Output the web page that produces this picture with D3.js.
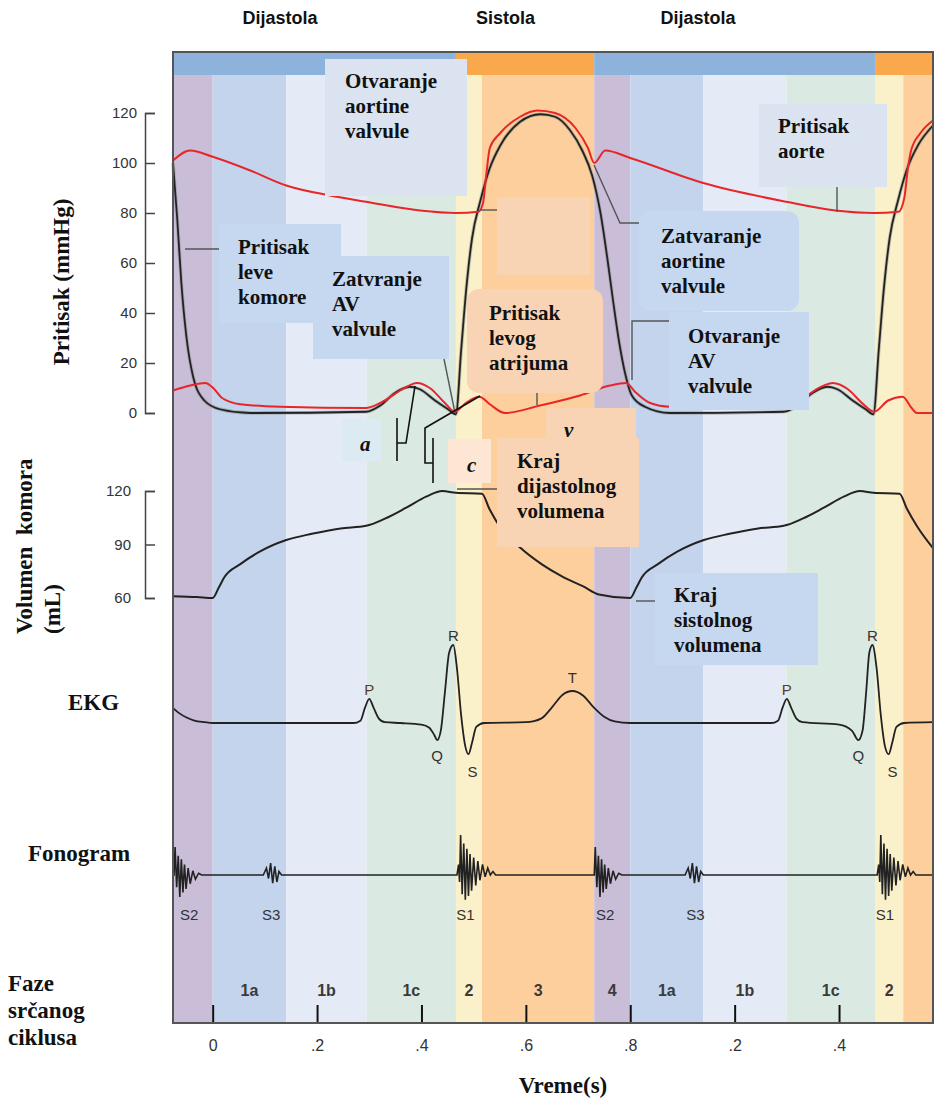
<!DOCTYPE html>
<html>
<head>
<meta charset="utf-8">
<script src="https://cdn.jsdelivr.net/npm/d3@7"></script>
<style>
	body { margin: 0; background: #fff; }
	svg { display: block; }
	.serif { font-family: "Liberation Serif", "Times New Roman", serif; font-weight: bold; fill: #111; }
	.sans { font-family: "Liberation Sans", Arial, sans-serif; fill: #333; }
</style>
</head>
<body>
<svg id="chart" width="935" height="1105"></svg>
<script>
// phases of the cardiac cycle (time in s)
const phaseNames = ["4", "1a", "1b", "1c", "2", "3", "4", "1a", "1b", "1c", "2", "3"];
const phaseStart = [-0.076, 0, 0.141, 0.295, 0.466, 0.516, 0.731, 0.8, 0.94, 1.099, 1.269, 1.323];
const tEnd = 1.38;

const cycleNames = ["Dijastola", "Sistola", "Dijastola", "Sistola"];
const cycleStart = [-0.076, 0.466, 0.731, 1.269];
const headerNames = ["Dijastola", "Sistola", "Dijastola"];
const headerTimes = [0.129, 0.561, 0.93];

const timeTicks = [0, 0.2, 0.4, 0.6, 0.8, 1.0, 1.2];
const timeTickLabels = ["0", ".2", ".4", ".6", ".8", ".2", ".4"];
const pressureTicks = [0, 20, 40, 60, 80, 100, 120];
const volumeTicks = [60, 90, 120];

// [t, mmHg]
const aortaPressure = [
	[-0.076, 101], [-0.043, 105], [0, 102.5], [0.072, 97], [0.141, 91], [0.225, 87],
	[0.294, 84.5], [0.397, 81], [0.466, 80], [0.509, 80.5], [0.518, 84], [0.524, 95],
	[0.531, 106], [0.551, 112], [0.589, 118.5], [0.622, 121], [0.656, 120], [0.695, 114],
	[0.719, 106], [0.731, 100], [0.752, 105], [0.8, 102], [0.94, 92], [1.099, 84.5],
	[1.193, 81], [1.266, 80], [1.314, 80.5], [1.325, 86], [1.332, 98], [1.338, 105],
	[1.356, 112], [1.38, 117]
];
const lvPressure = [
	[-0.076, 100], [-0.068, 78], [-0.06, 52], [-0.05, 30], [-0.038, 15], [-0.016, 5],
	[0.014, 1.5], [0.072, 0], [0.294, 0.5], [0.321, 3], [0.349, 8], [0.378, 10.5],
	[0.397, 9.5], [0.426, 5], [0.451, 1.5], [0.466, -0.5], [0.476, 25], [0.486, 50],
	[0.497, 70], [0.513, 85], [0.531, 98], [0.551, 107], [0.589, 116.5], [0.628, 119.5],
	[0.656, 118.5], [0.685, 113], [0.708, 105], [0.727, 95], [0.743, 80], [0.756, 62],
	[0.767, 45], [0.779, 28], [0.79, 16], [0.803, 7], [0.828, 2.5], [0.876, 0],
	[1.094, 0.5], [1.121, 3], [1.149, 8], [1.178, 10.5], [1.197, 9.5], [1.226, 5],
	[1.251, 1.5], [1.266, -0.5], [1.276, 25], [1.286, 50], [1.297, 70], [1.313, 85],
	[1.331, 98], [1.351, 107], [1.38, 115]
];
const laPressure = [
	[-0.076, 9], [-0.043, 11], [-0.014, 12], [0.001, 10], [0.018, 6], [0.053, 3.5],
	[0.129, 2.5], [0.294, 2], [0.33, 5], [0.359, 9], [0.392, 12], [0.416, 10],
	[0.445, 4], [0.464, 0.5], [0.485, 4], [0.511, 6.5], [0.531, 3.5], [0.56, 0],
	[0.627, 3], [0.704, 7], [0.761, 11], [0.792, 12], [0.809, 8.5], [0.838, 4],
	[0.876, 2.5], [1.087, 2], [1.126, 5], [1.153, 9], [1.188, 12], [1.217, 9.5],
	[1.244, 4], [1.267, 0.5], [1.294, 5], [1.322, 6.5], [1.339, 2], [1.349, 0], [1.38, 0]
];
// [t, mL]
const lvVolume = [
	[-0.076, 61], [-0.03, 60.5], [0, 60], [0.012, 66], [0.022, 71.5], [0.053, 79], [0.09, 86],
	[0.141, 92.5], [0.19, 96], [0.245, 99], [0.294, 100.5], [0.33, 104.5], [0.37, 110.5],
	[0.41, 117], [0.44, 120], [0.466, 119], [0.516, 118.5], [0.53, 110], [0.55, 100],
	[0.59, 88], [0.63, 79], [0.67, 72], [0.71, 66.5], [0.74, 62], [0.8, 60],
	[0.812, 66], [0.822, 71.5], [0.853, 79], [0.89, 86], [0.941, 92.5], [0.99, 96], [1.045, 99],
	[1.094, 100.5], [1.13, 104.5], [1.17, 110.5], [1.21, 117], [1.24, 120], [1.266, 119],
	[1.316, 118.5], [1.33, 110], [1.35, 100], [1.38, 88]
];
// [t, relative units]
const ekg = [
	[-0.076, 0.19], [-0.065, 0.13], [-0.05, 0.07], [-0.035, 0.03], [-0.015, 0.01], [0, 0],
	[0.27, 0], [0.283, 0.03], [0.292, 0.2], [0.3, 0.31], [0.308, 0.2], [0.318, 0.06],
	[0.33, 0.01], [0.36, 0], [0.4, -0.02], [0.415, -0.06], [0.425, -0.16], [0.43, -0.22],
	[0.437, -0.1], [0.445, 0.4], [0.453, 0.9], [0.461, 1.0], [0.468, 0.7], [0.476, 0.1],
	[0.484, -0.3], [0.49, -0.4], [0.497, -0.25], [0.505, -0.05], [0.52, 0], [0.6, 0.01],
	[0.63, 0.06], [0.65, 0.2], [0.67, 0.36], [0.689, 0.41], [0.71, 0.35], [0.73, 0.2],
	[0.75, 0.08], [0.77, 0.02], [0.8, 0], [1.07, 0], [1.083, 0.03], [1.092, 0.2],
	[1.1, 0.31], [1.108, 0.2], [1.118, 0.06], [1.13, 0.01], [1.2, -0.02], [1.225, -0.1],
	[1.237, -0.22], [1.245, -0.1], [1.252, 0.4], [1.258, 0.9], [1.264, 1.0], [1.272, 0.7],
	[1.28, 0.1], [1.288, -0.3], [1.295, -0.4], [1.302, -0.25], [1.31, -0.05], [1.325, 0],
	[1.38, 0.01]
];
const ekgWaveNames = ["P", "Q", "R", "S", "T", "P", "Q", "R", "S"];
const ekgWaveTimes = [0.3, 0.43, 0.461, 0.49, 0.689, 1.1, 1.237, 1.264, 1.295];
const ekgWaveValues = [0.31, -0.22, 1.0, -0.4, 0.41, 0.31, -0.22, 1.0, -0.4];

// heart sounds: onset times and shapes [dt, amplitude]
const soundNames = ["S2", "S3", "S1", "S2", "S3", "S1"];
const soundOnsets = [-0.074, 0.097, 0.468, 0.731, 0.905, 1.273];
const soundLabelTimes = [-0.045, 0.112, 0.484, 0.752, 0.925, 1.288];
const s1Shape = [[0, 0], [0.003, 0.3], [0.005, -0.2], [0.007, 1.14], [0.01, -0.55], [0.013, 0.9],
	[0.016, -0.71], [0.019, 0.75], [0.022, -0.6], [0.025, 0.6], [0.028, -0.45], [0.032, 0.5],
	[0.036, -0.3], [0.04, 0.4], [0.044, -0.15], [0.049, 0.3], [0.054, -0.05], [0.059, 0.2],
	[0.064, 0], [0.069, 0.1], [0.074, 0]];
const s2Shape = [[0, 0], [0.002, 0.8], [0.005, -0.35], [0.008, 0.55], [0.011, -0.63], [0.014, 0.45],
	[0.017, -0.5], [0.02, 0.3], [0.023, -0.4], [0.027, 0.2], [0.031, -0.25], [0.036, 0.12],
	[0.041, -0.12], [0.047, 0.05], [0.053, 0]];
const s3Shape = [[0, 0], [0.006, 0.2], [0.01, -0.1], [0.014, 0.34], [0.018, -0.23], [0.022, 0.25],
	[0.026, -0.2], [0.03, 0.1], [0.035, 0]];

const phaseColor = { "4": "#c9bdd7", "1a": "#c3d4ec", "1b": "#e5ebf6", "1c": "#dbe9e3", "2": "#faf0c9", "3": "#fdcf9c" };
const cycleColor = { "Dijastola": "#8db2dc", "Sistola": "#f9a94b" };

let svg = d3.select("#chart");
const frameTop = 52, frameBottom = 1023, barBottom = 75;

let x = d3.scaleLinear().domain([-0.076, tEnd]).range([173, 933]);
let yP = d3.scaleLinear().domain([0, 120]).range([413, 113]);
let yV = d3.scaleLinear().domain([60, 120]).range([598, 491]);
let yE = d3.scaleLinear().domain([0, 1]).range([723, 645]);
let yS = d3.scaleLinear().domain([-1, 1]).range([910, 840]);

// background stripes
let phases = phaseNames.map((n, i) => ({ name: n, t0: phaseStart[i], t1: i < phaseStart.length - 1 ? phaseStart[i + 1] : tEnd, i: i }));
svg.append("g").selectAll("rect").data(phases).enter().append("rect")
	.attr("x", d => x(d.t0)).attr("width", d => x(d.t1) - x(d.t0))
	.attr("y", barBottom).attr("height", frameBottom - barBottom)
	.style("fill", d => phaseColor[d.name]);

let cycles = cycleNames.map((n, i) => ({ name: n, t0: cycleStart[i], t1: i < cycleStart.length - 1 ? cycleStart[i + 1] : tEnd }));
svg.append("g").selectAll("rect").data(cycles).enter().append("rect")
	.attr("x", d => x(d.t0)).attr("width", d => x(d.t1) - x(d.t0))
	.attr("y", frameTop).attr("height", barBottom - frameTop)
	.style("fill", d => cycleColor[d.name]);

svg.append("g").selectAll("text").data(headerNames).enter().append("text")
	.attr("class", "sans").attr("x", (d, i) => x(headerTimes[i])).attr("y", 24)
	.attr("text-anchor", "middle").style("font-size", "18px").style("font-weight", "bold").style("fill", "#111")
	.text(d => d);

// phase numbers
svg.append("g").selectAll("text").data(phases.filter(d => d.i > 0 && d.i < phases.length - 1)).enter().append("text")
	.attr("class", "sans").attr("x", d => (x(d.t0) + x(d.t1)) / 2).attr("y", 996)
	.attr("text-anchor", "middle").style("font-size", "16px").style("font-weight", "bold").style("fill", "#3a3a3a")
	.text(d => d.name);

// curves
let lineP = d3.line().x(d => x(d[0])).y(d => yP(d[1])).curve(d3.curveMonotoneX);
let curves = svg.append("g").style("fill", "none");
curves.append("path").attr("d", lineP(lvPressure)).style("stroke", "#888").style("stroke-width", 3.5).style("opacity", 0.5);
curves.append("path").attr("d", lineP(lvPressure)).style("stroke", "#222").style("stroke-width", 1.8);
curves.append("path").attr("d", lineP(aortaPressure)).style("stroke", "#e8262a").style("stroke-width", 2);
curves.append("path").attr("d", lineP(laPressure)).style("stroke", "#e8262a").style("stroke-width", 2);

let lineV = d3.line().x(d => x(d[0])).y(d => yV(d[1])).curve(d3.curveMonotoneX);
curves.append("path").attr("d", lineV(lvVolume)).style("stroke", "#222").style("stroke-width", 2);

let lineE = d3.line().x(d => x(d[0])).y(d => yE(d[1])).curve(d3.curveMonotoneX);
curves.append("path").attr("d", lineE(ekg)).style("stroke", "#222").style("stroke-width", 1.8);

svg.append("g").selectAll("text").data(ekgWaveNames).enter().append("text")
	.attr("class", "sans").attr("text-anchor", "middle").style("font-size", "15px")
	.attr("x", (d, i) => x(ekgWaveTimes[i]) + (d == "S" ? 4 : 0))
	.attr("y", (d, i) => {
		let py = yE(ekgWaveValues[i]);
		if (d == "Q") return py + 21;
		if (d == "S") return py + 23;
		if (d == "T") return py - 8;
		return py - 4;
	})
	.style("fill", d => d == "P" ? "#5a3b28" : "#333")
	.text(d => d);

// phonogram
let shapes = { S1: s1Shape, S2: s2Shape, S3: s3Shape };
let phono = [[-0.076, 0]];
soundNames.forEach((n, i) => {
	shapes[n].forEach(p => phono.push([soundOnsets[i] + p[0], p[1]]));
});
phono.push([tEnd, 0]);
let lineS = d3.line().x(d => x(d[0])).y(d => yS(d[1]));
curves.append("path").attr("d", lineS(phono)).style("stroke", "#222").style("stroke-width", 1.6);

svg.append("g").selectAll("text").data(soundNames).enter().append("text")
	.attr("class", "sans").attr("text-anchor", "middle").style("font-size", "15px")
	.attr("x", (d, i) => x(soundLabelTimes[i])).attr("y", 920)
	.text(d => d);

// annotation boxes
const notes = [
	{ lines: ["Otvaranje", "aortine", "valvule"], box: [325, 59, 142, 137], fill: "#dae3ef", tx: 345, ty: 88 },
	{ lines: [], box: [497, 197, 93, 78], fill: "#f9d4b4" },
	{ lines: ["Pritisak", "aorte"], box: [759, 104, 128, 83], fill: "#dae3ef", tx: 778, ty: 133 },
	{ lines: ["Pritisak", "leve", "komore"], box: [219, 224, 122, 99], fill: "#c6d8ef", tx: 238, ty: 254 },
	{ lines: ["Zatvranje", "AV", "valvule"], box: [313, 256, 136, 103], fill: "#c6d8ef", tx: 332, ty: 286 },
	{ lines: ["Pritisak", "levog", "atrijuma"], box: [467, 289, 136, 104], fill: "#f9d4b4", rx: 12, tx: 489, ty: 320 },
	{ lines: ["Zatvaranje", "aortine", "valvule"], box: [639, 211, 160, 100], fill: "#c6d8ef", rx: 12, tx: 661, ty: 243 },
	{ lines: ["Otvaranje", "AV", "valvule"], box: [669, 312, 140, 98], fill: "#c6d8ef", tx: 688, ty: 343 },
	{ lines: ["Kraj", "sistolnog", "volumena"], box: [655, 573, 163, 92], fill: "#c6d8ef", tx: 674, ty: 602 },
	{ lines: ["a"], box: [342, 419, 39, 42], fill: "#dcebf1", tx: 360, ty: 451, italic: true },
	{ lines: ["v"], box: [546, 408, 90, 47], fill: "#f9d4b4", tx: 564, ty: 437, italic: true },
	{ lines: ["c"], box: [448, 439, 43, 44], fill: "#fde6d4", tx: 467, ty: 472, italic: true },
	{ lines: ["Kraj", "dijastolnog", "volumena"], box: [497, 438, 142, 109], fill: "#f9d4b4", tx: 517, ty: 468 }
];
let ng = svg.append("g");
notes.forEach(n => {
	ng.append("rect").attr("x", n.box[0]).attr("y", n.box[1]).attr("width", n.box[2]).attr("height", n.box[3])
		.attr("rx", n.rx || 0).style("fill", n.fill);
	let t = ng.append("text").attr("class", "serif").style("font-size", "21px")
		.style("font-style", n.italic ? "italic" : "normal");
	n.lines.forEach((l, i) => {
		t.append("tspan").attr("x", n.tx).attr("y", n.ty + i * 25).text(l);
	});
});

// leader lines
const leaders = [
	[[185, 249], [219, 249]], [[444, 359], [455, 413]], [[537, 393], [537, 405]],
	[[480, 210], [497, 210]], [[837, 187], [837, 212]], [[594, 165], [620, 223], [639, 223]],
	[[632, 380], [632, 321], [669, 321]], [[457, 489], [497, 489]], [[636, 601], [655, 601]]
];
const brackets = [
	[[415, 386], [406, 443], [397, 443]], [[397, 418], [397, 461]],
	[[480, 396], [425, 428], [425, 463], [433, 463]], [[433, 438], [433, 483]]
];
let poly = d3.line();
svg.append("g").selectAll("path").data(leaders).enter().append("path")
	.attr("d", d => poly(d)).style("fill", "none").style("stroke", "#555").style("stroke-width", 1.4);
svg.append("g").selectAll("path").data(brackets).enter().append("path")
	.attr("d", d => poly(d)).style("fill", "none").style("stroke", "#111").style("stroke-width", 1.6);

// frame
svg.append("rect").attr("x", 173).attr("y", frameTop).attr("width", 933 - 173).attr("height", frameBottom - frameTop)
	.style("fill", "none").style("stroke", "#555").style("stroke-width", 2);

// time axis
let xAxis = d3.axisBottom(x).tickValues(timeTicks).tickSize(17).tickFormat((d, i) => timeTickLabels[i]);
let gx = svg.append("g").attr("transform", "translate(0,1005)").call(xAxis);
gx.select(".domain").remove();
gx.selectAll("line").style("stroke", "#111").style("stroke-width", 2);
gx.selectAll("text").attr("y", 35).style("font-size", "16px").style("font-family", "Liberation Sans, Arial, sans-serif").style("fill", "#333");

// y axes (bracket style)
function bracketAxis(scale, ticks, labelX) {
	let g = svg.append("g").attr("transform", "translate(145,0)")
		.call(d3.axisRight(scale).tickValues(ticks).tickSize(10).tickSizeOuter(10).tickFormat(d3.format("d")));
	g.select(".domain").style("stroke", "#444").style("stroke-width", 1.5);
	g.selectAll(".tick line").style("stroke", "#444").style("stroke-width", 1.5);
	g.selectAll(".tick text").attr("x", labelX).attr("text-anchor", "end")
		.style("font-size", "15px").style("font-family", "Liberation Sans, Arial, sans-serif").style("fill", "#333");
}
bracketAxis(yP, pressureTicks, -8);
bracketAxis(yV, volumeTicks, -14);

// side titles
svg.append("text").attr("class", "serif").attr("transform", "translate(69,282) rotate(-90)")
	.attr("text-anchor", "middle").style("font-size", "23px").text("Pritisak (mmHg)");
svg.append("text").attr("class", "serif").attr("transform", "translate(32,634) rotate(-90)")
	.style("font-size", "23px").style("white-space", "pre").text("Volumen  komora");
svg.append("text").attr("class", "serif").attr("transform", "translate(60,634) rotate(-90)")
	.style("font-size", "23px").text("(mL)");
svg.append("text").attr("class", "serif").attr("x", 68).attr("y", 710).style("font-size", "23px").text("EKG");
svg.append("text").attr("class", "serif").attr("x", 28).attr("y", 861).style("font-size", "23px").text("Fonogram");
let faze = svg.append("text").attr("class", "serif").style("font-size", "23px");
["Faze", "srčanog", "ciklusa"].forEach((l, i) => faze.append("tspan").attr("x", 8).attr("y", 991 + i * 27).text(l));
svg.append("text").attr("class", "serif").attr("x", 563).attr("y", 1093).attr("text-anchor", "middle")
	.style("font-size", "23px").text("Vreme(s)");
</script>
</body>
</html>
